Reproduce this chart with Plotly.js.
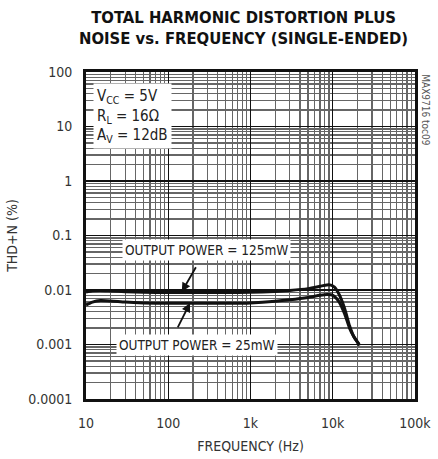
<!DOCTYPE html>
<html><head><meta charset="utf-8">
<script src="https://cdn.plot.ly/plotly-3.0.1.min.js"></script>
<style>html,body{margin:0;padding:0;background:#fff}</style>
</head><body>
<div id="chart" style="width:438px;height:459px"></div>
<script>
const freq125 = [10, 12, 15, 20, 30, 50, 100, 200, 500, 1000, 2000, 3000, 5000, 7000, 8500, 9500, 10500, 12000, 14000, 16000, 18000, 20000, 21000];
const thd125  = [0.0092, 0.0097, 0.0098, 0.0096, 0.0093, 0.0091, 0.0090, 0.0090, 0.0090, 0.0091, 0.0094, 0.0098, 0.0106, 0.0117, 0.0124, 0.0123, 0.0113, 0.0082, 0.0045, 0.0022, 0.0014, 0.0011, 0.00095];
const freq25  = [10, 12, 15, 20, 30, 50, 100, 200, 500, 1000, 2000, 3000, 5000, 7000, 8500, 9500, 10500, 12000, 14000, 16000, 18000, 20000, 21000];
const thd25   = [0.0053, 0.0060, 0.0064, 0.0063, 0.0060, 0.0058, 0.0057, 0.0057, 0.0057, 0.0058, 0.0062, 0.0066, 0.0073, 0.0080, 0.0083, 0.0082, 0.0076, 0.0060, 0.0036, 0.0020, 0.0014, 0.0011, 0.0010];
const xTickVals = [10, 100, 1000, 10000, 100000];
const xTickText = ['10', '100', '1k', '10k', '100k'];
const yTickVals = [0.0001, 0.001, 0.01, 0.1, 1, 10, 100];
const yTickText = ['0.0001', '0.001', '0.01', '0.1', '1', '10', '100'];

const narrow = '"Liberation Sans Narrow", "DejaVu Sans Condensed", Arial, sans-serif';
const lineStyle = {color: '#111', width: 3, shape: 'spline', smoothing: 0.6};

const traces = [
  {x: freq125, y: thd125, mode: 'lines', line: lineStyle, hoverinfo: 'skip'},
  {x: freq25, y: thd25, mode: 'lines', line: lineStyle, hoverinfo: 'skip'}
];

const axisCommon = {
  type: 'log', showline: true, mirror: true, linecolor: '#111', linewidth: 3,
  showgrid: true, gridcolor: '#111', gridwidth: 1.3,
  ticks: '', zeroline: false,
  tickfont: {family: narrow, size: 14, color: '#333'},
  minor: {dtick: 'D1', showgrid: true, gridcolor: '#666', gridwidth: 1.3, ticks: ''}
};

const layout = {
  width: 438, height: 459,
  margin: {l: 86, r: 23, t: 72, b: 60},
  paper_bgcolor: '#fff', plot_bgcolor: '#fff',
  showlegend: false,
  xaxis: Object.assign({}, axisCommon, {
    range: [1, 5], tickvals: xTickVals, ticktext: xTickText, ticklabelstandoff: 9,
    title: {text: 'FREQUENCY (Hz)', font: {family: narrow, size: 14, color: '#333'}, standoff: 12}
  }),
  yaxis: Object.assign({}, axisCommon, {
    range: [-4, 2], tickvals: yTickVals, ticktext: yTickText, ticklabelstandoff: 8,
    title: {text: 'THD+N (%)', font: {family: narrow, size: 14, color: '#333'}, standoff: 8}
  }),
  annotations: [
    {xref: 'paper', yref: 'paper', x: 0.48, y: 1.135, xanchor: 'center', yanchor: 'middle',
     text: '<b>TOTAL HARMONIC DISTORTION PLUS<br>NOISE vs. FREQUENCY (SINGLE-ENDED)</b>',
     showarrow: false, font: {family: narrow, size: 16.5, color: '#111'}},
    {xref: 'paper', yref: 'paper', x: 0.02, y: 0.965, xanchor: 'left', yanchor: 'top',
     text: 'V<sub>CC</sub> = 5V<br>R<sub>L</sub> = 16Ω<br>A<sub>V</sub> = 12dB',
     align: 'left', showarrow: false, bgcolor: '#fff', borderpad: 3,
     font: {family: narrow, size: 15, color: '#222'}},
    {xref: 'x', yref: 'y', x: Math.log10(288), y: Math.log10(0.055),
     text: 'OUTPUT POWER = 125mW', showarrow: false, bgcolor: '#fff', borderpad: 2,
     font: {family: narrow, size: 13.5, color: '#222'}},
    {xref: 'x', yref: 'y', x: Math.log10(224), y: Math.log10(0.00098),
     text: 'OUTPUT POWER = 25mW', showarrow: false, bgcolor: '#fff', borderpad: 2,
     font: {family: narrow, size: 13.5, color: '#222'}},
    {xref: 'x', yref: 'y', x: Math.log10(146), y: Math.log10(0.0093), text: '',
     showarrow: true, arrowhead: 2, arrowsize: 1, arrowwidth: 1.8, arrowcolor: '#111', ax: 15, ay: -26},
    {xref: 'x', yref: 'y', x: Math.log10(184), y: Math.log10(0.0058), text: '',
     showarrow: true, arrowhead: 2, arrowsize: 1, arrowwidth: 1.8, arrowcolor: '#111', ax: -13, ay: 26},
    {xref: 'paper', yref: 'paper', x: 1.01, y: 1.0, xanchor: 'left', yanchor: 'top',
     text: 'MAX9716 toc09', textangle: 90, showarrow: false,
     font: {family: narrow, size: 10, color: '#555'}}
  ]
};

Plotly.newPlot('chart', traces, layout, {displayModeBar: false, staticPlot: true});
</script>
</body></html>
